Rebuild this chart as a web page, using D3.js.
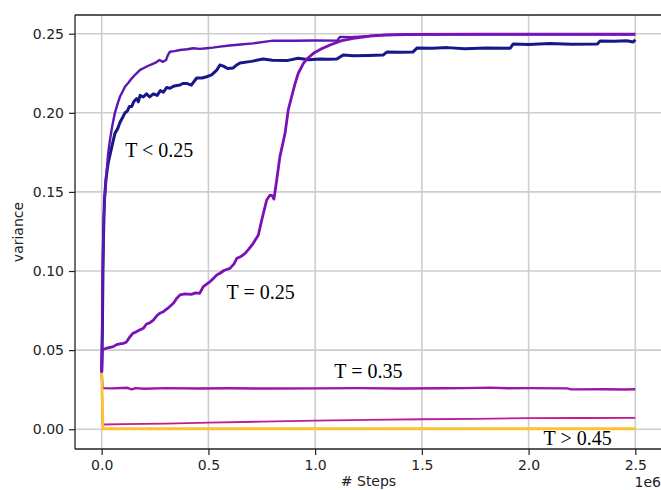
<!DOCTYPE html>
<html>
<head>
<meta charset="utf-8">
<script src="https://cdn.jsdelivr.net/npm/d3@7"></script>
<style>
  html, body { margin: 0; padding: 0; background: #fff; }
  svg { display: block; }
</style>
</head>
<body>
<svg id="chart" width="661" height="490"></svg>
<script>
// ---- data (x in units of 1e6 steps, y = variance) ----
const xTicks = [0.0, 0.5, 1.0, 1.5, 2.0, 2.5];
const yTicks = [0.00, 0.05, 0.10, 0.15, 0.20, 0.25];

const seriesLow = [ // T < 0.25, navy
  [0,0.036],[0.003,0.06],[0.006,0.10],[0.009,0.125],[0.013,0.145],[0.02,0.158],[0.03,0.168],[0.04,0.174],
  [0.05,0.180],[0.062,0.187],[0.075,0.190],[0.086,0.194],[0.098,0.197],[0.109,0.200],[0.12,0.201],[0.13,0.204],
  [0.141,0.204],[0.15,0.207],[0.164,0.209],[0.172,0.207],[0.18,0.211],[0.195,0.210],[0.21,0.212],[0.225,0.210],
  [0.242,0.212],[0.26,0.211],[0.275,0.214],[0.289,0.213],[0.305,0.216],[0.32,0.2155],[0.34,0.217],[0.367,0.2176],
  [0.38,0.2185],[0.398,0.2186],[0.42,0.2175],[0.445,0.222],[0.47,0.222],[0.492,0.2228],[0.515,0.224],[0.539,0.227],
  [0.554,0.2302],[0.57,0.2295],[0.59,0.228],[0.615,0.2283],[0.63,0.230],[0.648,0.2315],[0.7,0.2325],[0.756,0.234],
  [0.8,0.2332],[0.868,0.233],[0.92,0.2345],[0.97,0.2335],[1.023,0.234],[1.06,0.2338],[1.102,0.234],[1.131,0.2365],
  [1.18,0.236],[1.25,0.2362],[1.318,0.2365],[1.337,0.2385],[1.4,0.2382],[1.459,0.2385],[1.478,0.241],[1.55,0.2408],
  [1.62,0.2412],[1.7,0.2405],[1.8,0.241],[1.914,0.2408],[1.928,0.2435],[2.0,0.2432],[2.1,0.2438],[2.2,0.2433],
  [2.322,0.2435],[2.335,0.2454],[2.4,0.2452],[2.46,0.2455],[2.49,0.2448],[2.5,0.2462]
];

const seriesHigh = [ // T < 0.25, violet (upper)
  [0,0.036],[0.003,0.07],[0.006,0.11],[0.01,0.135],[0.016,0.15],[0.023,0.162],[0.03,0.174],[0.039,0.183],
  [0.05,0.192],[0.062,0.200],[0.075,0.206],[0.086,0.2103],[0.098,0.2135],[0.109,0.2165],[0.125,0.219],[0.141,0.2218],
  [0.16,0.2245],[0.18,0.2271],[0.2,0.2285],[0.226,0.2302],[0.25,0.2315],[0.271,0.2334],[0.285,0.2322],[0.302,0.2334],
  [0.31,0.2365],[0.32,0.2386],[0.34,0.239],[0.367,0.2397],[0.4,0.2402],[0.429,0.2408],[0.46,0.2404],[0.492,0.2408],
  [0.52,0.2412],[0.554,0.2418],[0.6,0.2425],[0.65,0.2432],[0.709,0.2439],[0.76,0.2448],[0.803,0.2456],[0.9,0.2455],
  [1.0,0.2457],[1.103,0.2456],[1.117,0.248],[1.17,0.2478],[1.243,0.2485],[1.3,0.249],[1.5,0.2494],[2.0,0.2495],[2.5,0.2495]
];

const seriesT025 = [ // T = 0.25
  [0,0.0364],[0.003,0.049],[0.006,0.0505],[0.023,0.0512],[0.04,0.0518],[0.054,0.0522],[0.07,0.0535],[0.085,0.054],
  [0.101,0.0543],[0.115,0.055],[0.133,0.0585],[0.145,0.0605],[0.164,0.0617],[0.18,0.0628],[0.195,0.0638],[0.21,0.0665],
  [0.225,0.0672],[0.242,0.069],[0.26,0.072],[0.275,0.0735],[0.289,0.0743],[0.31,0.0765],[0.336,0.0796],[0.35,0.0825],
  [0.367,0.0849],[0.39,0.0855],[0.42,0.0852],[0.44,0.0862],[0.459,0.0859],[0.476,0.0901],[0.49,0.0915],[0.508,0.0933],
  [0.525,0.0955],[0.539,0.0975],[0.554,0.0986],[0.575,0.1005],[0.601,0.1017],[0.62,0.1045],[0.633,0.108],[0.65,0.109],
  [0.672,0.1112],[0.69,0.114],[0.71,0.1175],[0.734,0.1228],[0.75,0.1323],[0.773,0.1449],[0.789,0.148],[0.8,0.1475],
  [0.807,0.1455],[0.82,0.1575],[0.835,0.1723],[0.859,0.187],[0.874,0.2018],[0.89,0.2102],[0.905,0.218],[0.921,0.225],
  [0.945,0.2313],[0.965,0.2345],[0.992,0.2376],[1.03,0.2405],[1.07,0.2429],[1.12,0.2455],[1.179,0.2471],[1.257,0.2485],
  [1.33,0.2492],[1.412,0.2496],[1.8,0.2497],[2.5,0.2497]
];

const seriesT035 = [ // T = 0.35
  [0,0.036],[0.004,0.026],[0.05,0.0258],[0.12,0.0262],[0.14,0.0252],[0.16,0.026],[0.2,0.0256],[0.3,0.026],
  [0.45,0.0257],[0.6,0.0259],[0.8,0.0257],[1.0,0.0258],[1.2,0.026],[1.4,0.0257],[1.6,0.0259],[1.7,0.026],
  [1.82,0.0263],[1.9,0.0259],[2.0,0.026],[2.18,0.0258],[2.2,0.0252],[2.35,0.0253],[2.45,0.0251],[2.5,0.0253]
];

const seriesT040 = [ // between T = 0.35 and T > 0.45
  [0,0.036],[0.005,0.003],[0.1,0.0032],[0.3,0.0036],[0.5,0.0042],[0.75,0.0048],[1.0,0.0054],[1.25,0.0059],
  [1.5,0.0063],[1.75,0.0066],[2.0,0.007],[2.25,0.0071],[2.5,0.0072]
];

const seriesT045 = [ // T > 0.45
  [0,0.0355],[0.006,0.0003],[1.0,0.0003],[2.5,0.0003]
];

const annotations = [
  {text: "T < 0.25", x: 0.11, y: 0.172},
  {text: "T = 0.25", x: 0.585, y: 0.0821},
  {text: "T = 0.35", x: 1.09, y: 0.0322},
  {text: "T > 0.45", x: 2.07, y: -0.0099}
];

// ---- layout ----
const svg = d3.select("#chart");
const mL = 75, mR = 662, mT = 15, mB = 449;
const x = d3.scaleLinear().domain([-0.125, 2.625]).range([mL, mR]);
const y = d3.scaleLinear().domain([-0.0125, 0.26182]).range([mB, mT]);

// grid
const grid = svg.append("g");
grid.selectAll("line.v").data(xTicks).join("line").attr("class", "v")
  .attr("x1", d => x(d)).attr("x2", d => x(d)).attr("y1", mT).attr("y2", mB)
  .attr("stroke", "#cdcdcd").attr("stroke-width", 1.6);
grid.selectAll("line.h").data(yTicks).join("line").attr("class", "h")
  .attr("x1", mL).attr("x2", mR).attr("y1", d => y(d)).attr("y2", d => y(d))
  .attr("stroke", "#cdcdcd").attr("stroke-width", 1.6);

// lines
const line = d3.line().x(d => x(d[0])).y(d => y(d[1]));
const series = [
  {data: seriesLow, color: "#17178a", w: 3.0},
  {data: seriesHigh, color: "#5c16b2", w: 2.4},
  {data: seriesT025, color: "#7a12b8", w: 2.8},
  {data: seriesT035, color: "#9e16a6", w: 2.4},
  {data: seriesT040, color: "#c21a90", w: 1.8},
  {data: seriesT045, color: "#fcc232", w: 2.8}
];
svg.append("g").selectAll("path").data(series).join("path")
  .attr("d", d => line(d.data))
  .attr("fill", "none")
  .attr("stroke", d => d.color)
  .attr("stroke-width", d => d.w)
  .attr("stroke-linejoin", "round");

// axes
const fontTick = "'DejaVu Sans', sans-serif";
const xAxis = svg.append("g").attr("transform", `translate(0,${mB})`)
  .call(d3.axisBottom(x).tickValues(xTicks).tickFormat(d3.format(".1f")).tickSize(6).tickPadding(5));
const yAxis = svg.append("g").attr("transform", `translate(${mL},0)`)
  .call(d3.axisLeft(y).tickValues(yTicks).tickFormat(d3.format(".2f")).tickSize(6).tickPadding(5));
[xAxis, yAxis].forEach(a => {
  a.select(".domain").remove();
  a.selectAll(".tick line").attr("stroke", "#222").attr("stroke-width", 1.2);
  a.selectAll(".tick text").attr("font-family", fontTick).attr("font-size", 14).attr("fill", "#222");
});

// spines
const spine = (x1, y1, x2, y2) => svg.append("line")
  .attr("x1", x1).attr("y1", y1).attr("x2", x2).attr("y2", y2)
  .attr("stroke", "#222").attr("stroke-width", 1.3);
spine(mL, mB, mR, mB);
spine(mL, mT, mR, mT);
spine(mL, mT, mL, mB);
spine(mR, mT, mR, mB);

// axis labels
svg.append("text").attr("x", (mL + mR) / 2).attr("y", 486)
  .attr("text-anchor", "middle").attr("font-family", fontTick).attr("font-size", 14).attr("fill", "#222")
  .text("# Steps");
svg.append("text").attr("transform", `translate(23,${(mT + mB) / 2}) rotate(-90)`)
  .attr("text-anchor", "middle").attr("font-family", fontTick).attr("font-size", 14).attr("fill", "#222")
  .text("variance");
svg.append("text").attr("x", mR - 1).attr("y", 487)
  .attr("text-anchor", "end").attr("font-family", fontTick).attr("font-size", 14).attr("fill", "#222")
  .text("1e6");

// annotations
svg.append("g").selectAll("text").data(annotations).join("text")
  .attr("x", d => x(d.x)).attr("y", d => y(d.y))
  .attr("font-family", "'Liberation Serif', 'Times New Roman', serif")
  .attr("font-size", 20).attr("fill", "#000")
  .text(d => d.text);
</script>
</body>
</html>
